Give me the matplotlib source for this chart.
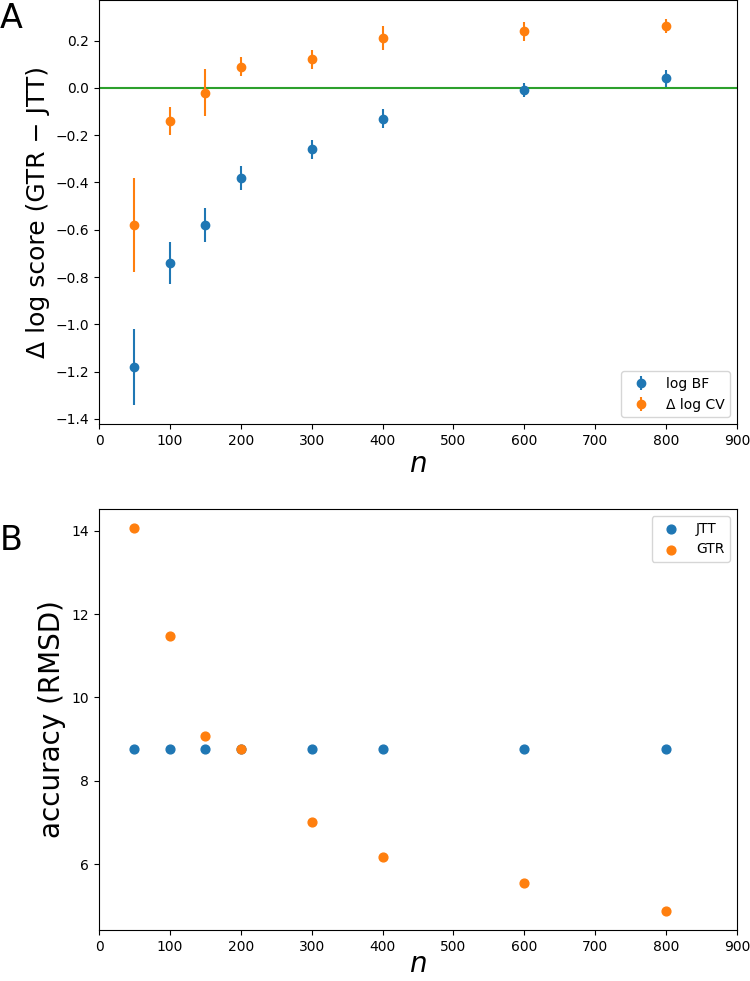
import matplotlib
matplotlib.use("Agg")
import matplotlib.pyplot as plt

# Data
n_values = [50, 100, 150, 200, 300, 400, 600, 800]
log_bf = [-1.18, -0.74, -0.58, -0.38, -0.26, -0.13, -0.01, 0.04]
log_bf_err = [0.16, 0.09, 0.07, 0.05, 0.04, 0.04, 0.03, 0.035]
dlog_cv = [-0.58, -0.14, -0.02, 0.09, 0.12, 0.21, 0.24, 0.26]
dlog_cv_err = [0.20, 0.06, 0.10, 0.04, 0.04, 0.05, 0.04, 0.03]
rmsd_jtt = [8.77, 8.77, 8.77, 8.77, 8.77, 8.77, 8.77, 8.77]
rmsd_gtr = [14.06, 11.47, 9.07, 8.77, 7.02, 6.16, 5.55, 4.88]

W, H = 750, 981
fig = plt.figure(figsize=(W / 100, H / 100), dpi=100)

def px_axes(left, top, right, bottom):
    return fig.add_axes([left / W, 1 - bottom / H, (right - left) / W, (bottom - top) / H])

# Panel A
axA = px_axes(99, 0, 737, 424)
axA.axhline(0, color='C2', lw=1.5, zorder=1)
axA.errorbar(n_values, log_bf, yerr=log_bf_err, fmt='o', color='C0', label='log BF')
axA.errorbar(n_values, dlog_cv, yerr=dlog_cv_err, fmt='o', color='C1', label='Δ log CV')
axA.set_xlim(0, 900)
axA.set_xticks(range(0, 901, 100))
axA.set_xlabel('$n$', fontsize=20, labelpad=2)
axA.set_ylabel('Δ log score (GTR − JTT)', fontsize=18)
axA.legend(loc='lower right')

# Panel B
axB = px_axes(99, 509, 737, 930)
axB.scatter(n_values, rmsd_jtt, s=40, color='C0', label='JTT')
axB.scatter(n_values, rmsd_gtr, s=40, color='C1', label='GTR')
axB.set_xlim(0, 900)
axB.set_xticks(range(0, 901, 100))
axB.set_xlabel('$n$', fontsize=20, labelpad=-3)
axB.set_ylabel('accuracy (RMSD)', fontsize=20)
axB.legend(loc='upper right')

fig.text(0, 1 - 28 / H, 'A', fontsize=24, ha='left', va='baseline')
fig.text(0, 1 - 550 / H, 'B', fontsize=24, ha='left', va='baseline')

fig.savefig('out.png', dpi=100)
